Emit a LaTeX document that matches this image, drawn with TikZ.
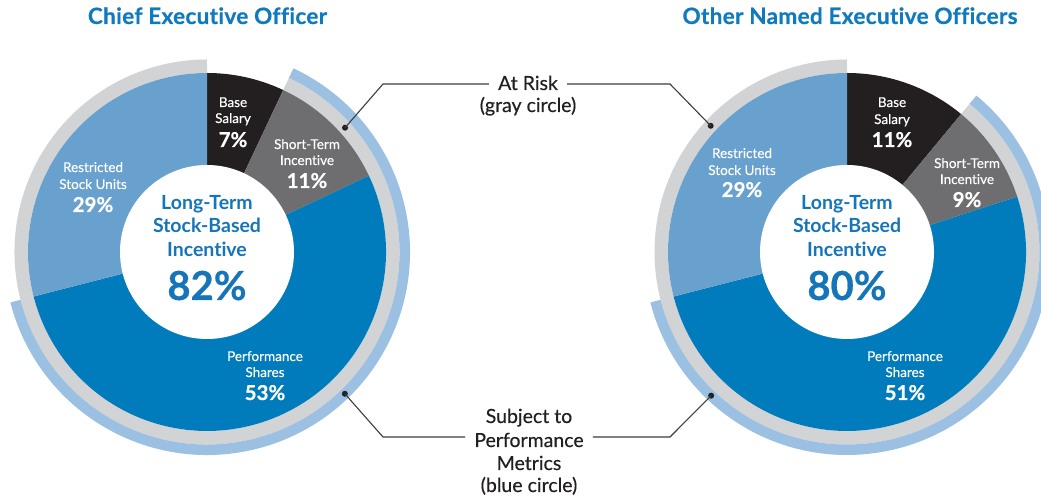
\documentclass[tikz,border=0pt]{standalone}
\usepackage{fontspec}
\setmainfont{Lato}[Ligatures=NoCommon]
\definecolor{psblue}{RGB}{0,123,188}
\definecolor{rsublue}{RGB}{104,160,206}
\definecolor{basecol}{RGB}{35,31,32}
\definecolor{sticol}{RGB}{110,110,112}
\definecolor{ringgray}{RGB}{209,211,212}
\definecolor{ringblue}{RGB}{155,192,226}
\definecolor{ttlblue}{RGB}{16,122,190}
\definecolor{ctrblue}{RGB}{22,117,185}
\definecolor{txtgray}{RGB}{35,31,32}
\definecolor{linegray}{RGB}{60,60,60}
\newcommand\pieslice[4]{\fill[#4] (#1) -- ([shift={(#2:179)}]#1) arc[start angle=#2, end angle=#3, radius=179pt] -- cycle;}
\newcommand\ringarc[5]{\draw[#5, line width=#4] ([shift={(#2:#1)}]#3) arc[start angle=#2, end angle=-270, radius=#1 pt];}
\tikzset{
  lbl/.style={anchor=base, text=white, font=\fontsize{13.5}{13.5}\selectfont\addfontfeature{FakeBold=0.3}, inner sep=0pt},
  pct/.style={anchor=base, text=white, font=\bfseries\fontsize{20.5}{20.5}\selectfont\addfontfeature{FakeBold=0.5}, inner sep=0pt},
  ctr/.style={anchor=base, text=ctrblue, font=\bfseries\fontsize{19.5}{19.5}\selectfont, inner sep=0pt},
  bignum/.style={anchor=base, text=ctrblue, font=\bfseries\fontsize{40}{40}\selectfont\addfontfeature{FakeBold=0.5}, inner sep=0pt},
  midtxt/.style={anchor=base, text=txtgray, font=\fontsize{19.5}{19.5}\selectfont\addfontfeature{FakeBold=0.3}, inner ysep=0pt, inner xsep=9pt},
  ttl/.style={anchor=base, text=ttlblue, font=\bfseries\fontsize{22.5}{22.5}\selectfont\addfontfeature{LetterSpace=1.5,FakeBold=0.6}, inner sep=0pt},
  conn/.style={draw=linegray, line width=1.1pt},
  pdot/.style={circle, fill=basecol, inner sep=0pt, minimum size=6pt}
}
\begin{document}
\begin{tikzpicture}[x=1pt,y=1pt]
\useasboundingbox (0,0) rectangle (1041,500);
\coordinate (CL) at (207,248);
\coordinate (CR) at (847,248);
% ---------- left pie ----------
\ringarc{185.75}{64.8}{CL}{13.5pt}{ringgray}
\draw[ringblue, line width=10.5pt] ([shift={(64.8:197.75)}]CL) arc[start angle=64.8, end angle=-165.6, radius=197.75pt];
\pieslice{CL}{90}{64.8}{basecol}
\pieslice{CL}{64.8}{25.2}{sticol}
\pieslice{CL}{25.2}{-165.6}{psblue}
\pieslice{CL}{-165.6}{-270}{rsublue}
\fill[white] (CL) circle[radius=87pt];
% ---------- right pie ----------
\ringarc{185.75}{50.4}{CR}{13.5pt}{ringgray}
\draw[ringblue, line width=10.5pt] ([shift={(50.4:197.75)}]CR) arc[start angle=50.4, end angle=-165.6, radius=197.75pt];
\pieslice{CR}{90}{50.4}{basecol}
\pieslice{CR}{50.4}{18}{sticol}
\pieslice{CR}{18}{-165.6}{psblue}
\pieslice{CR}{-165.6}{-270}{rsublue}
\fill[white] (CR) circle[radius=87pt];
% ---------- titles ----------
\node[ttl] (t1) at (207.5,476) {Chief Executive Officer};
\node[ttl] (t2) at (850,476) {Other Named Executive Officers};
% ---------- left labels ----------
\node[lbl] (lb1) at (233,393) {Base};
\node[lbl] (lb2) at (233,377) {Salary};
\node[pct] (lb3) at (233,353) {7\%};
\node[lbl] (ls1) at (307,351) {Short-Term};
\node[lbl] (ls2) at (307,335) {Incentive};
\node[pct] (ls3) at (307,312) {11\%};
\node[lbl] (lr1) at (93,328) {Restricted};
\node[lbl] (lr2) at (93,311) {Stock Units};
\node[pct] (lr3) at (93,288) {29\%};
\node[ctr] (lc1) at (207,290) {Long-Term};
\node[ctr] (lc2) at (207,267) {Stock-Based};
\node[ctr] (lc3) at (207,243) {Incentive};
\node[bignum] (lc4) at (207,200) {82\%};
\node[lbl] (lp1) at (265,139) {Performance};
\node[lbl] (lp2) at (265,123) {Shares};
\node[pct] (lp3) at (265,100) {53\%};
% ---------- right labels ----------
\node[lbl] (rb1) at (892,393) {Base};
\node[lbl] (rb2) at (892,376) {Salary};
\node[pct] (rb3) at (892,353) {11\%};
\node[lbl] (rs1) at (967,332) {Short-Term};
\node[lbl] (rs2) at (967,316) {Incentive};
\node[pct] (rs3) at (967,293) {9\%};
\node[lbl] (rr1) at (742,342) {Restricted};
\node[lbl] (rr2) at (742,325) {Stock Units};
\node[pct] (rr3) at (742,303) {29\%};
\node[ctr] (rc1) at (847,290) {Long-Term};
\node[ctr] (rc2) at (847,267) {Stock-Based};
\node[ctr] (rc3) at (847,243) {Incentive};
\node[bignum] (rc4) at (847,200) {80\%};
\node[lbl] (rp1) at (905,139) {Performance};
\node[lbl] (rp2) at (905,123) {Shares};
\node[pct] (rp3) at (905,100) {51\%};
% ---------- middle labels ----------
\node[midtxt] (ar1) at (528,410) {At Risk};
\node[midtxt] (ar2) at (528,388) {(gray circle)};
\node[midtxt] (sb1) at (529,77) {Subject to};
\node[midtxt] (sb2) at (529,53) {Performance};
\node[midtxt] (sb3) at (529,30) {Metrics};
\node[midtxt] (sb4) at (529,8) {(blue circle)};
% ---------- connectors ----------
\node[pdot] (dAL) at ([shift={(42:185.75)}]CL) {};
\node[pdot] (dAR) at ([shift={(137.2:185.75)}]CR) {};
\node[pdot] (dSL) at ([shift={(-45.8:197.75)}]CL) {};
\node[pdot] (dSR) at ([shift={(-133.4:197.75)}]CR) {};
\coordinate (kAL) at (383,416);
\coordinate (kAR) at (670,416);
\coordinate (kSL) at (383,63);
\coordinate (kSR) at (670,63);
\draw[conn] (dAL.center) -- (kAL) -- (ar1.west |- kAL);
\draw[conn] (ar1.east |- kAR) -- (kAR) -- (dAR.center);
\draw[conn] (dSL.center) -- (kSL) -- (sb2.west |- kSL);
\draw[conn] (sb2.east |- kSR) -- (kSR) -- (dSR.center);
\end{tikzpicture}
\end{document}
